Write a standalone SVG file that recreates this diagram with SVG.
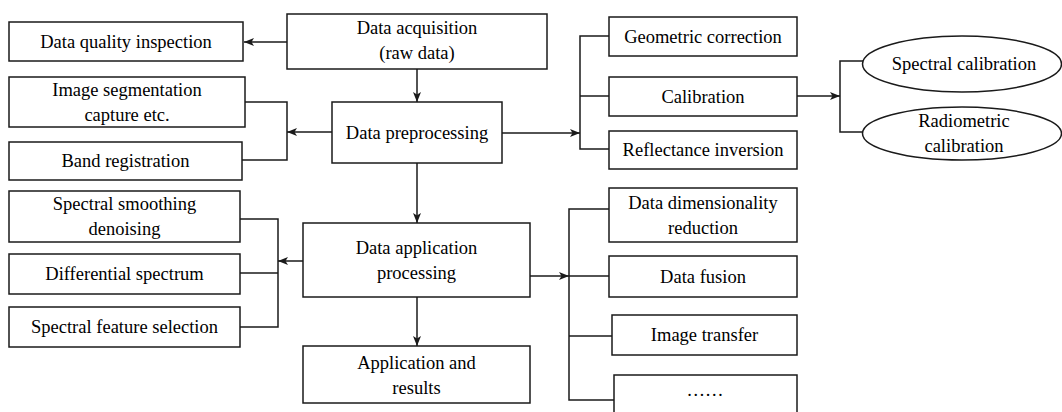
<svg xmlns="http://www.w3.org/2000/svg" width="1062" height="412" viewBox="0 0 1062 412">
<style>
.box{fill:#fff;stroke:#1a1a1a;stroke-width:1.5}
.t{font-family:'Liberation Serif','Times New Roman',serif;font-size:18.5px;fill:#000;text-anchor:middle}
.c{fill:none;stroke:#1a1a1a;stroke-width:1.5}
</style>
<defs>
<marker id="ah" viewBox="0 0 10 8" refX="10" refY="4" markerWidth="10" markerHeight="8" markerUnits="userSpaceOnUse" orient="auto">
<path d="M0,0 L10,4 L0,8 L2.5,4 z" fill="#1a1a1a"/>
</marker>
</defs>
<rect width="1062" height="412" fill="#fff"/>
<g id="connectors">
<line class="c" x1="287" y1="42" x2="244" y2="42" marker-end="url(#ah)"/>
<line class="c" x1="417" y1="69" x2="417" y2="102" marker-end="url(#ah)"/>
<line class="c" x1="332" y1="132" x2="287" y2="132" marker-end="url(#ah)"/>
<polyline class="c" points="245,102 287,102 287,160 242,160"/>
<line class="c" x1="502" y1="133" x2="580" y2="133" marker-end="url(#ah)"/>
<polyline class="c" points="609,36 580,36 580,149 609,149"/>
<line class="c" x1="580" y1="96" x2="609" y2="96"/>
<line class="c" x1="797" y1="96" x2="840" y2="96" marker-end="url(#ah)"/>
<polyline class="c" points="863,61 840,61 840,132 863,132"/>
<line class="c" x1="417" y1="163" x2="417" y2="223" marker-end="url(#ah)"/>
<line class="c" x1="303" y1="261" x2="278" y2="261" marker-end="url(#ah)"/>
<polyline class="c" points="240,219 278,219 278,327 240,327"/>
<line class="c" x1="240" y1="273" x2="278" y2="273"/>
<line class="c" x1="530" y1="276" x2="569" y2="276" marker-end="url(#ah)"/>
<polyline class="c" points="609,209 569,209 569,400 614,400"/>
<line class="c" x1="569" y1="276" x2="609" y2="276"/>
<line class="c" x1="569" y1="336" x2="612" y2="336"/>
<line class="c" x1="417" y1="297" x2="417" y2="346" marker-end="url(#ah)"/>
</g>
<g font-family="Liberation Serif, Times New Roman, serif">
<g id="n-acq"><rect class="box" x="287" y="14" width="260" height="55"/><text class="t" x="417" y="34">Data acquisition</text><text class="t" x="417" y="59">(raw data)</text></g>
<g id="n-quality"><rect class="box" x="9" y="22" width="234" height="39"/><text class="t" x="126" y="47.5">Data quality inspection</text></g>
<g id="n-preproc"><rect class="box" x="332" y="102" width="170" height="61"/><text class="t" x="417" y="138.5">Data preprocessing</text></g>
<g id="n-seg"><rect class="box" x="9" y="77" width="236" height="50"/><text class="t" x="127" y="95.5">Image segmentation</text><text class="t" x="127" y="120.5">capture etc.</text></g>
<g id="n-band"><rect class="box" x="9" y="142" width="233" height="38"/><text class="t" x="125.5" y="167">Band registration</text></g>
<g id="n-geo"><rect class="box" x="609" y="17" width="188" height="39"/><text class="t" x="703" y="42.5">Geometric correction</text></g>
<g id="n-cal"><rect class="box" x="609" y="77" width="188" height="39"/><text class="t" x="703" y="102.5">Calibration</text></g>
<g id="n-refl"><rect class="box" x="609" y="131" width="188" height="38"/><text class="t" x="703" y="156">Reflectance inversion</text></g>
<g id="n-spcal"><ellipse class="box" cx="962" cy="64" rx="99.5" ry="28"/><text class="t" x="964" y="70">Spectral calibration</text></g>
<g id="n-radcal"><ellipse class="box" cx="962" cy="133.5" rx="99.5" ry="26.5"/><text class="t" x="964" y="127">Radiometric</text><text class="t" x="964" y="152">calibration</text></g>
<g id="n-app"><rect class="box" x="303" y="223" width="227" height="74"/><text class="t" x="416.5" y="253.5">Data application</text><text class="t" x="416.5" y="278.5">processing</text></g>
<g id="n-smooth"><rect class="box" x="9" y="191" width="231" height="51"/><text class="t" x="124.5" y="210">Spectral smoothing</text><text class="t" x="124.5" y="235">denoising</text></g>
<g id="n-diff"><rect class="box" x="9" y="254" width="231" height="40"/><text class="t" x="124.5" y="280">Differential spectrum</text></g>
<g id="n-feat"><rect class="box" x="9" y="307" width="231" height="40"/><text class="t" x="124.5" y="333">Spectral feature selection</text></g>
<g id="n-results"><rect class="box" x="303" y="346" width="227" height="57"/><text class="t" x="416.5" y="369">Application and</text><text class="t" x="416.5" y="394">results</text></g>
<g id="n-dimred"><rect class="box" x="609" y="188" width="188" height="54"/><text class="t" x="703" y="208.5">Data dimensionality</text><text class="t" x="703" y="233.5">reduction</text></g>
<g id="n-fusion"><rect class="box" x="609" y="256" width="188" height="41"/><text class="t" x="703" y="282.5">Data fusion</text></g>
<g id="n-transfer"><rect class="box" x="612" y="315" width="185" height="40"/><text class="t" x="704.5" y="341">Image transfer</text></g>
<g id="n-more"><rect class="box" x="614" y="375" width="183" height="50"/><text class="t" x="705" y="396">……</text></g>
</g>
</svg>
